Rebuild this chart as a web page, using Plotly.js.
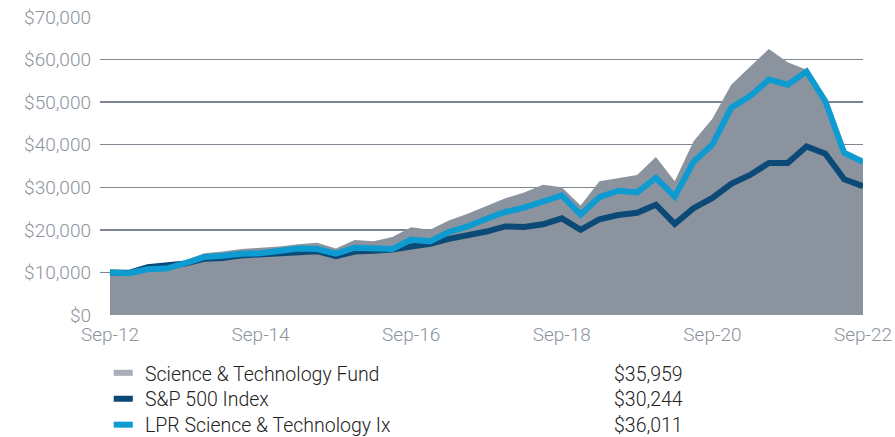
<!DOCTYPE html>
<html>
<head>
<meta charset="utf-8">
<script src="https://cdn.plot.ly/plotly-3.0.1.min.js"></script>
<style>html,body{margin:0;padding:0;background:#fff;}#chart{width:895px;height:437px;}</style>
</head>
<body>
<div id="chart"></div>
<script>
// Quarterly periods, Sep-12 .. Sep-22 (41 points)
const quarters = ["Sep-12","Dec-12","Mar-13","Jun-13","Sep-13","Dec-13","Mar-14","Jun-14","Sep-14","Dec-14","Mar-15","Jun-15","Sep-15","Dec-15","Mar-16","Jun-16","Sep-16","Dec-16","Mar-17","Jun-17","Sep-17","Dec-17","Mar-18","Jun-18","Sep-18","Dec-18","Mar-19","Jun-19","Sep-19","Dec-19","Mar-20","Jun-20","Sep-20","Dec-20","Mar-21","Jun-21","Sep-21","Dec-21","Mar-22","Jun-22","Sep-22"];
const fundValues = [10000,9900,10900,11500,12800,14500,14900,15500,15800,16100,16600,17000,15600,17600,17300,18300,20600,20000,22200,23800,25600,27400,28800,30600,30000,25700,31400,32200,32900,37100,31400,40800,46100,54100,58400,62500,59400,57600,50500,38400,35959];
const spValues = [10000,9900,11200,11700,12100,13200,13400,14000,14200,14700,14800,15000,13800,14900,15100,15400,16100,16700,17900,18600,19600,20800,20700,21300,22700,20000,22500,23500,24000,25900,21400,25100,27500,30800,32900,35700,35700,39600,37900,31900,30244];
const lprValues = [10000,9800,10750,10900,12200,13600,13900,14400,14500,15100,15600,15500,14400,15800,15500,15500,17700,17300,19500,20800,22600,24200,25200,26800,28100,23600,27700,29200,28800,32200,27800,36000,40000,48700,51400,55300,54100,57200,50200,38100,36011];
const seriesNames = ["Science & Technology Fund","S&P 500 Index","LPR Science & Technology Ix"];
const tickLabels = ["Sep-12","Sep-14","Sep-16","Sep-18","Sep-20","Sep-22"];
const yTicks = [0,10000,20000,30000,40000,50000,60000,70000];

const colors = {fund:"#8b949e", fundSwatch:"#a9afb8", sp:"#0b4a77", lpr:"#0d9bd2"};
const xIdx = quarters.map((q,i)=>i);
const tickIdx = tickLabels.map(t => quarters.indexOf(t));
const FONT = "Roboto, Liberation Sans, Arial, sans-serif";

const traces = [
  {x:xIdx, y:fundValues, type:"scatter", mode:"lines", fill:"tozeroy", fillcolor:colors.fund, line:{color:colors.fund, width:0}, name:seriesNames[0], hoverinfo:"skip"},
  {x:xIdx, y:spValues, type:"scatter", mode:"lines", line:{color:colors.sp, width:6}, name:seriesNames[1], hoverinfo:"skip"},
  {x:xIdx, y:lprValues, type:"scatter", mode:"lines", line:{color:colors.lpr, width:6}, name:seriesNames[2], hoverinfo:"skip"}
];

function fmt(v){ return "$" + v.toLocaleString("en-US"); }
const finals = [fundValues[fundValues.length-1], spValues[spValues.length-1], lprValues[lprValues.length-1]];
const swatchColors = [colors.fundSwatch, colors.sp, colors.lpr];
const rowY = [-0.198, -0.285, -0.372];

const annotations = [];
const shapes = [];
seriesNames.forEach((n,i)=>{
  annotations.push({xref:"paper", yref:"paper", x:0.0564, y:rowY[i], xanchor:"left", yanchor:"middle", text:n, showarrow:false, font:{family:FONT, size:19.5, weight:300, color:"#222222"}});
  annotations.push({xref:"paper", yref:"paper", x:0.7667, y:rowY[i], xanchor:"right", yanchor:"middle", text:fmt(finals[i]), showarrow:false, font:{family:FONT, size:19.5, weight:300, color:"#222222"}});
  shapes.push({type:"line", xref:"paper", yref:"paper", x0:0.018, x1:0.043, y0:rowY[i]+0.004, y1:rowY[i]+0.004, line:{color:swatchColors[i], width:6}});
});

const layout = {
  width:895, height:437,
  margin:{l:100, r:32, t:17, b:122},
  paper_bgcolor:"#ffffff", plot_bgcolor:"#ffffff",
  showlegend:false,
  font:{family:FONT, size:19, weight:300, color:"#8b939c"},
  xaxis:{range:[-0.53, 40], tickmode:"array", tickvals:tickIdx, ticktext:tickLabels, showgrid:false, zeroline:false, showline:false, ticks:"", ticklabelstandoff:6, tickfont:{family:FONT, size:19, weight:300, color:"#8b939c"}, fixedrange:true},
  yaxis:{range:[0,70000], tickmode:"array", tickvals:yTicks, ticktext:yTicks.map(fmt), showgrid:true, gridcolor:"#7d8590", gridwidth:1.3, zeroline:false, showline:false, ticks:"", ticklabelstandoff:8, tickfont:{family:FONT, size:19, weight:300, color:"#8b939c"}, fixedrange:true},
  annotations:annotations,
  shapes:shapes
};
Plotly.newPlot("chart", traces, layout, {displayModeBar:false, staticPlot:true});
</script>
</body>
</html>
